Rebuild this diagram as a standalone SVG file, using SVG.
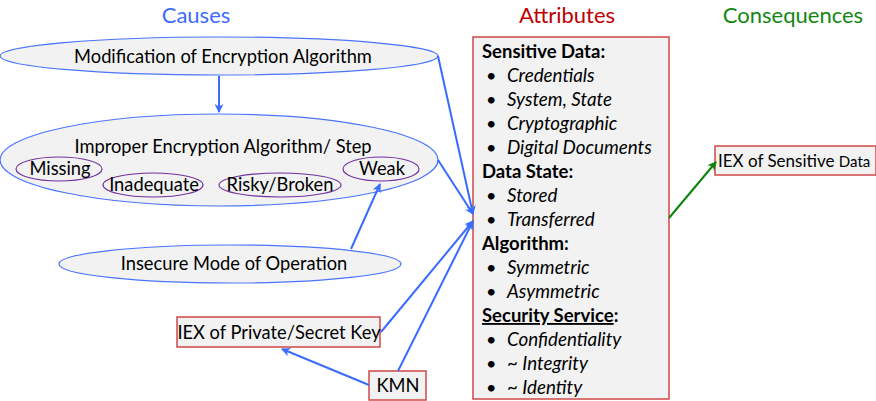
<svg xmlns="http://www.w3.org/2000/svg" width="876" height="401" viewBox="0 0 876 401">
  <defs>
    <marker id="ahBlue" viewBox="0 0 10 10" refX="9" refY="5" markerWidth="10" markerHeight="9" markerUnits="userSpaceOnUse" orient="auto">
      <path d="M0,0 L10,5 L0,10 L3,5 Z" fill="#3a6bff"/>
    </marker>
    <marker id="ahGreen" viewBox="0 0 10 10" refX="9" refY="5" markerWidth="10" markerHeight="9" markerUnits="userSpaceOnUse" orient="auto">
      <path d="M0,0 L10,5 L0,10 L3,5 Z" fill="#0a840a"/>
    </marker>
  </defs>
  <style>
    text { font-family: Lato, "Open Sans", "Liberation Sans", sans-serif; fill: #000; }
    .title { font-size: 22px; text-anchor: middle; }
    .cause { fill: #f2f2f2; stroke: #4a74ff; stroke-width: 1.2; }
    .sub { fill: none; stroke: #7030a0; stroke-width: 1.2; }
    .box { fill: #f2f2f2; stroke: #d04848; stroke-width: 1.5; }
    .lbl { font-size: 18.3px; text-anchor: middle; }
    .hd { font-size: 18.5px; font-weight: bold; }
    .it { font-size: 18.8px; font-style: italic; }
    .bul { font-size: 18px; }
    .edge { fill: none; stroke: #3a6bff; stroke-width: 2; marker-end: url(#ahBlue); }
    .cons { fill: none; stroke: #0a840a; stroke-width: 2; marker-end: url(#ahGreen); }
  </style>

  <!-- column headings -->
  <text class="title" x="196" y="23" style="fill:#3d6bff">Causes</text>
  <text class="title" x="567" y="23" style="fill:#c00000">Attributes</text>
  <text class="title" x="793" y="23" style="fill:#118811">Consequences</text>

  <g id="modification">
    <ellipse class="cause" cx="219" cy="56" rx="219" ry="19"/>
    <text class="lbl" x="223" y="63">Modification of Encryption Algorithm</text>
  </g>

  <g id="improper">
    <ellipse class="cause" cx="219" cy="160" rx="219" ry="46"/>
    <text class="lbl" x="223" y="153">Improper Encryption Algorithm/ Step</text>
    <g id="missing">
      <ellipse class="sub" cx="59" cy="169" rx="43" ry="12"/>
      <text class="lbl" x="60" y="175">Missing</text>
    </g>
    <g id="inadequate">
      <ellipse class="sub" cx="153" cy="185" rx="50" ry="12"/>
      <text class="lbl" x="154" y="191">Inadequate</text>
    </g>
    <g id="risky">
      <ellipse class="sub" cx="280" cy="185" rx="61" ry="12"/>
      <text class="lbl" x="280" y="191">Risky/Broken</text>
    </g>
    <g id="weak">
      <ellipse class="sub" cx="381" cy="169" rx="38" ry="12"/>
      <text class="lbl" x="382" y="175">Weak</text>
    </g>
  </g>

  <g id="insecure-mode">
    <ellipse class="cause" cx="230" cy="264" rx="171" ry="19"/>
    <text class="lbl" x="234" y="270">Insecure Mode of Operation</text>
  </g>

  <g id="iex-key">
    <rect class="box" x="177" y="317" width="203" height="30"/>
    <text class="lbl" x="279" y="339">IEX of Private/Secret Key</text>
  </g>

  <g id="kmn">
    <rect class="box" x="369" y="371" width="57" height="29"/>
    <text class="lbl" x="398" y="392">KMN</text>
  </g>

  <g id="attributes">
    <rect class="box" x="473" y="37" width="196" height="362"/>
    <text class="hd" x="482" y="58">Sensitive Data:</text>
    <text class="bul" x="486" y="82">•</text><text class="it" x="507" y="82">Credentials</text>
    <text class="bul" x="486" y="106">•</text><text class="it" x="507" y="106">System, State</text>
    <text class="bul" x="486" y="130">•</text><text class="it" x="507" y="130">Cryptographic</text>
    <text class="bul" x="486" y="154">•</text><text class="it" x="507" y="154">Digital Documents</text>
    <text class="hd" x="482" y="178">Data State:</text>
    <text class="bul" x="486" y="202">•</text><text class="it" x="507" y="202">Stored</text>
    <text class="bul" x="486" y="226">•</text><text class="it" x="507" y="226">Transferred</text>
    <text class="hd" x="482" y="250">Algorithm:</text>
    <text class="bul" x="486" y="274">•</text><text class="it" x="507" y="274">Symmetric</text>
    <text class="bul" x="486" y="298">•</text><text class="it" x="507" y="298">Asymmetric</text>
    <text class="hd" x="482" y="322"><tspan text-decoration="underline">Security Service</tspan>:</text>
    <text class="bul" x="486" y="346">•</text><text class="it" x="507" y="346">Confidentiality</text>
    <text class="bul" x="486" y="370">•</text><text class="it" x="507" y="370">~ Integrity</text>
    <text class="bul" x="486" y="394">•</text><text class="it" x="507" y="394">~ Identity</text>
  </g>

  <g id="iex-data">
    <rect class="box" x="715" y="146" width="161" height="29"/>
    <text x="718" y="167" style="font-size:17px">IEX of Sensitive <tspan style="font-size:15px">Data</tspan></text>
  </g>

  <g id="connectors">
    <path class="edge" d="M219,76 L219,112"/>
    <path class="edge" d="M438,56 L473,214"/>
    <path class="edge" d="M438,160 L473,214"/>
    <path class="edge" d="M351,249 L380,184"/>
    <path class="edge" d="M381,332 L473,221"/>
    <path class="edge" d="M398,371 L473,221"/>
    <path class="edge" d="M369,385 L282,349"/>
    <path class="cons" d="M669,218 L716,162"/>
  </g>
</svg>
